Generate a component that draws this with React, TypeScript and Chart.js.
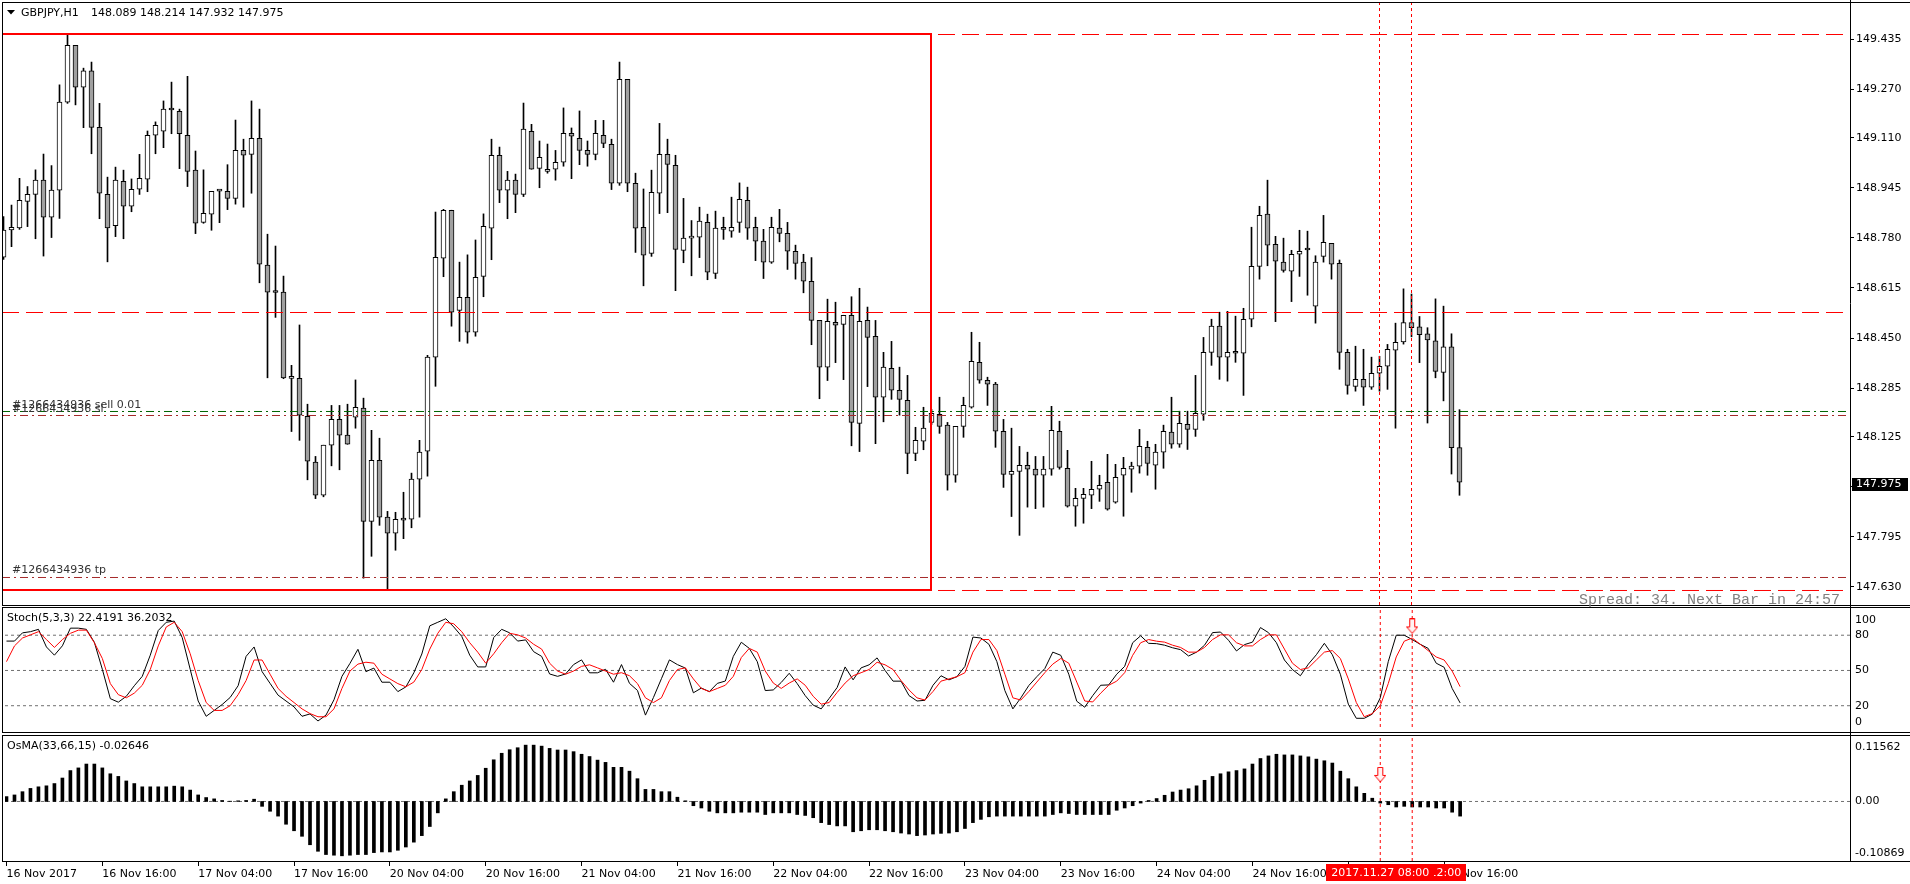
import React, { useEffect, useRef } from 'react';
import { Chart, registerables } from 'chart.js';
Chart.register(...registerables);

// ---------------- data (GBPJPY H1) ----------------
const OPEN = [
  148.716,148.806,148.813,148.900,148.923,148.970,148.848,148.937,149.227,149.414,
  149.276,149.330,149.144,148.923,148.820,148.966,148.884,148.940,148.973,149.118,
  149.131,149.202,149.197,149.118,149.003,148.831,148.858,148.935,148.933,148.910,
  149.068,149.055,149.108,148.690,148.601,148.601,148.317,148.317,148.192,148.041,
  147.932,148.097,148.182,148.130,148.189,148.219,147.846,148.047,147.860,147.807,
  147.851,147.853,147.985,148.077,148.387,148.713,148.871,148.541,148.584,148.469,
  148.653,148.812,149.052,148.937,148.970,148.923,149.131,149.009,148.999,149.006,
  149.029,149.124,149.108,149.068,149.055,149.118,149.088,148.960,149.302,148.960,
  148.815,148.729,148.927,149.055,149.019,148.739,148.779,148.782,148.831,148.663,
  148.809,148.802,148.831,148.904,148.815,148.769,148.700,148.812,148.795,148.736,
  148.700,148.637,148.508,148.354,148.502,148.495,148.525,148.169,148.508,148.456,
  148.255,148.350,148.278,148.245,148.070,148.110,148.172,148.199,148.163,147.998,
  148.159,148.222,148.370,148.311,148.298,148.143,148.001,148.011,148.031,148.018,
  147.998,148.018,148.143,148.021,147.896,147.922,147.932,147.952,147.975,147.909,
  147.998,148.018,148.028,148.090,148.031,148.074,148.140,148.100,148.166,148.149,
  148.199,148.403,148.489,148.387,148.406,148.400,148.512,148.686,148.858,148.759,
  148.700,148.670,148.726,148.741,148.555,148.719,148.762,148.696,148.403,148.291,
  148.314,148.288,148.334,148.357,148.410,148.437,148.501,148.487,148.464,148.441,
  148.337,148.421,148.089,
];
const HIGH = [
  148.850,148.888,148.976,148.949,149.004,149.056,149.018,149.284,149.452,149.414,
  149.339,149.359,149.223,148.980,149.013,149.003,148.974,149.055,149.132,149.162,
  149.231,149.293,149.204,149.312,149.066,149.004,148.933,148.935,149.021,149.168,
  149.105,149.231,149.204,148.792,148.753,148.654,148.360,148.493,148.232,148.060,
  148.097,148.228,148.228,148.232,148.312,148.252,148.146,148.120,147.879,147.876,
  147.942,148.005,148.113,148.393,148.865,148.874,148.871,148.700,148.724,148.773,
  148.859,149.105,149.079,148.999,148.990,149.224,149.154,149.099,149.089,149.068,
  149.208,149.142,149.198,149.099,149.167,149.167,149.105,149.359,149.302,148.993,
  148.941,149.003,149.157,149.105,149.052,148.910,148.837,148.881,148.858,148.868,
  148.848,148.914,148.961,148.947,148.848,148.808,148.848,148.874,148.831,148.756,
  148.726,148.715,148.508,148.578,148.568,148.525,148.586,148.614,148.552,148.508,
  148.403,148.439,148.354,148.327,148.156,148.222,148.215,148.255,148.172,148.159,
  148.255,148.469,148.436,148.321,148.304,148.182,148.153,148.093,148.074,148.060,
  148.060,148.225,148.176,148.080,147.955,147.955,148.044,147.998,148.067,148.034,
  148.057,148.041,148.149,148.110,148.100,148.163,148.255,148.209,148.209,148.327,
  148.452,148.512,148.535,148.538,148.522,148.548,148.815,148.884,148.970,148.785,
  148.779,148.739,148.805,148.802,148.721,148.854,148.762,148.707,148.413,148.423,
  148.413,148.387,148.390,148.429,148.499,148.612,148.595,148.521,148.484,148.579,
  148.555,148.464,148.214,
];
const LOW = [
  148.709,148.751,148.808,148.817,148.777,148.720,148.781,148.844,149.223,149.218,
  149.143,149.057,148.843,148.701,148.784,148.777,148.866,148.923,148.932,149.057,
  149.077,149.123,149.008,148.949,148.794,148.828,148.805,148.830,148.873,148.891,
  148.881,148.927,148.632,148.319,148.518,148.316,148.142,148.113,147.983,147.921,
  147.927,148.029,148.016,148.100,148.153,147.659,147.731,147.833,147.622,147.751,
  147.789,147.825,147.860,147.995,148.291,148.652,148.489,148.439,148.433,148.456,
  148.586,148.708,148.896,148.843,148.863,148.916,149.006,148.945,148.993,148.970,
  149.016,148.975,149.021,149.016,149.037,149.077,148.939,148.953,148.932,148.732,
  148.622,148.719,148.860,148.863,148.606,148.698,148.655,148.715,148.642,148.646,
  148.775,148.782,148.798,148.775,148.705,148.646,148.696,148.767,148.676,148.644,
  148.599,148.428,148.250,148.310,148.369,148.313,148.095,148.076,148.290,148.102,
  148.174,148.248,148.196,148.003,148.046,148.082,148.165,148.136,147.949,147.975,
  148.123,148.219,148.301,148.228,148.090,147.958,147.862,147.800,147.893,147.888,
  147.893,147.998,148.018,147.893,147.830,147.840,147.888,147.912,147.883,147.906,
  147.863,147.942,148.005,147.998,147.952,148.021,148.087,148.090,148.083,148.126,
  148.179,148.360,148.314,148.308,148.370,148.261,148.487,148.644,148.688,148.504,
  148.667,148.570,148.653,148.591,148.499,148.700,148.644,148.347,148.265,148.275,
  148.228,148.281,148.275,148.281,148.153,148.430,148.454,148.369,148.170,148.319,
  148.243,148.002,147.932,
];
const CLOSE = [
  148.806,148.815,148.904,148.923,148.970,148.848,148.937,149.227,149.414,149.276,
  149.330,149.144,148.927,148.813,148.970,148.884,148.940,148.976,149.118,149.151,
  149.204,149.201,149.123,148.999,148.828,148.861,148.933,148.934,148.910,149.068,
  149.052,149.108,148.693,148.601,148.600,148.319,148.324,148.196,148.044,147.932,
  148.097,148.182,148.130,148.100,148.222,147.846,148.047,147.860,147.807,147.853,
  147.850,147.985,148.074,148.387,148.716,148.871,148.535,148.584,148.469,148.650,
  148.818,149.052,148.937,148.970,148.923,149.138,149.006,149.045,149.006,149.029,
  149.124,149.115,149.068,149.055,149.124,149.091,148.960,149.302,148.960,148.812,
  148.723,148.930,149.055,149.022,148.742,148.779,148.785,148.835,148.667,148.812,
  148.808,148.815,148.907,148.812,148.769,148.700,148.815,148.795,148.736,148.696,
  148.637,148.508,148.354,148.505,148.492,148.525,148.172,148.505,148.452,148.255,
  148.354,148.278,148.248,148.070,148.113,148.153,148.202,148.159,147.998,148.159,
  148.228,148.373,148.311,148.298,148.143,148.001,148.011,148.031,148.018,147.998,
  148.018,148.146,148.024,147.896,147.922,147.935,147.952,147.965,147.886,147.991,
  148.021,148.028,148.093,148.037,148.074,148.143,148.100,148.169,148.149,148.202,
  148.403,148.489,148.387,148.403,148.400,148.512,148.686,148.854,148.756,148.703,
  148.673,148.726,148.736,148.740,148.700,148.765,148.693,148.403,148.294,148.314,
  148.288,148.334,148.357,148.413,148.436,148.501,148.484,148.461,148.444,148.340,
  148.421,148.089,147.975,
];
const STOCH_K = [
  75,75,82,83,85,70,63,71,86,86,
  85,74,51,26,23,28,37,45,63,84,
  91,92,78,51,24,11,16,21,27,37,
  62,70,49,39,29,24,19,11,13,7,
  12,25,45,56,68,49,52,40,40,32,
  36,48,64,88,91,94,87,79,63,53,
  53,78,85,82,75,76,66,62,47,45,
  47,55,59,48,48,51,40,55,39,33,
  12,27,43,59,55,52,31,35,32,39,
  41,62,74,68.8,57.5,32.9,33.4,39.8,47.6,38.8,
  28.6,20.5,17.3,26.2,35.5,53,42,52.2,54.8,60.7,
  50,40.9,40.9,28.6,24,24.6,37.4,45.5,42,44.7,
  53.5,78.4,77.6,72.3,57.5,32.9,17.3,26.7,37.2,44.7,
  51.6,65.6,62.9,46.8,23.8,18.7,28.6,37.4,37.7,46.8,
  53.5,73.6,79.5,73.1,72.8,71.5,69.3,67.7,62.3,65.6,
  71.5,82.2,82.7,75.7,66.6,72,74.1,86.5,82.2,73.6,
  58.9,50.8,45.5,55.4,63.4,73.1,63.4,46.8,21.3,9.3,
  9.3,12.8,26.7,57.5,80,80,76.3,72.3,68.8,56.2,
  52.7,34.7,22.4,
];
const STOCH_D = [
  57.5,70.9,77.6,80.3,83,76.3,69.6,76.3,81.6,84.3,
  84.3,73.6,60.2,38.8,29.4,26.7,30.7,37.4,50.8,70.9,
  87,91,83,64.2,41.4,22.7,16,16,20,29.4,
  41.4,58.9,58.9,46.8,34.7,28,22.7,17.3,13.3,10.6,
  10.6,17.3,34.7,49.5,55.4,57,56.2,46.8,42.8,38.8,
  36.1,40.1,50.8,68.2,81.6,91,89.7,83,73.6,65.6,
  56.2,64.2,73.6,81.6,80.3,77.6,72.3,68.2,56.2,49.5,
  46.8,49.5,53.5,54.8,52.2,49.5,46.8,48.1,45.5,38.8,
  26.7,22.7,26.7,41.4,50.8,52.2,42.8,34.7,32,34.7,
  37.4,45,61,68.8,65.6,49.5,39.3,34.7,39.3,42.8,
  37.4,28,21.3,22.7,31.3,39.3,45.5,48.1,50.8,57,
  54.8,50.8,41.4,33.4,26.7,24.8,32.1,40.9,42.8,44.7,
  48.1,65.6,76.3,76.3,66.9,46.8,26.7,24.8,32.1,40.1,
  48.1,55.4,60.2,56.2,40.1,24,23.2,30.7,37.4,40.9,
  48.1,62.9,73.6,76.3,74.9,74.1,71.5,69.6,65.6,65.6,
  69.6,76.3,80.3,80.3,73.6,70.9,70.9,76.3,80.3,80.3,
  68.2,56.2,50.8,52.2,58.9,65.6,66.9,60.2,42.8,22.7,
  10.6,13.3,20,38.8,61.5,74.9,77.6,72.3,66.9,61.5,
  58.9,49.5,36.2,
];
const OSMA = [
  0.0088,0.0118,0.0177,0.0236,0.0265,0.0283,0.0324,0.0424,0.0559,0.0607,
  0.0677,0.0677,0.0607,0.0501,0.0453,0.0371,0.0324,0.0265,0.0265,0.0265,
  0.0265,0.0277,0.0265,0.0206,0.0118,0.0071,0.0047,0.0018,0.0005,0.0012,
  0.0018,0.0041,-0.0088,-0.0177,-0.0265,-0.0412,-0.0530,-0.0630,-0.0783,-0.0901,
  -0.0960,-0.0972,-0.0983,-0.0972,-0.0960,-0.0960,-0.0925,-0.0913,-0.0913,-0.0883,
  -0.0824,-0.0736,-0.0618,-0.0453,-0.0206,0.0047,0.0177,0.0294,0.0371,0.0471,
  0.0601,0.0754,0.0872,0.0936,0.0972,0.1019,0.1019,0.1001,0.0960,0.0931,
  0.0931,0.0901,0.0854,0.0813,0.0748,0.0707,0.0618,0.0618,0.0548,0.0412,
  0.0218,0.0218,0.0177,0.0177,0.0077,0.0012,-0.0077,-0.0118,-0.0177,-0.0206,
  -0.0206,-0.0206,-0.0194,-0.0194,-0.0194,-0.0236,-0.0206,-0.0206,-0.0206,-0.0236,
  -0.0253,-0.0294,-0.0383,-0.0418,-0.0442,-0.0442,-0.0548,-0.0530,-0.0512,-0.0512,
  -0.0530,-0.0548,-0.0571,-0.0589,-0.0618,-0.0607,-0.0589,-0.0577,-0.0571,-0.0548,
  -0.0489,-0.0383,-0.0324,-0.0277,-0.0265,-0.0265,-0.0265,-0.0265,-0.0265,-0.0265,
  -0.0265,-0.0236,-0.0206,-0.0218,-0.0236,-0.0236,-0.0236,-0.0236,-0.0236,-0.0159,
  -0.0118,-0.0077,-0.0029,0.0018,0.0053,0.0112,0.0171,0.0206,0.0230,0.0283,
  0.0383,0.0453,0.0501,0.0536,0.0559,0.0589,0.0677,0.0777,0.0824,0.0854,
  0.0842,0.0842,0.0824,0.0807,0.0766,0.0736,0.0695,0.0548,0.0412,0.0265,
  0.0147,0.0059,-0.0029,-0.0059,-0.0100,-0.0088,-0.0100,-0.0100,-0.0100,-0.0118,
  -0.0118,-0.0194,-0.0265,
];
const PRICE_TICKS = [149.435, 149.270, 149.110, 148.945, 148.780, 148.615, 148.450, 148.285, 148.125, 147.960, 147.795, 147.630];
const TIME_TICK_BARS = [0, 12, 24, 36, 48, 60, 72, 84, 96, 108, 120, 132, 144, 156, 168, 180];
const TIME_TICK_LABELS = [
  '16 Nov 2017', '16 Nov 16:00', '17 Nov 04:00', '17 Nov 16:00', '20 Nov 04:00', '20 Nov 16:00',
  '21 Nov 04:00', '21 Nov 16:00', '22 Nov 04:00', '22 Nov 16:00', '23 Nov 04:00', '23 Nov 16:00',
  '24 Nov 04:00', '24 Nov 16:00', '27 Nov 04:00', '27 Nov 16:00',
];
const STOCH_LEVELS = [80, 50, 20];
const STOCH_AXIS = [100, 80, 50, 20, 0];
const OSMA_AXIS = [0.11562, 0, -0.10869];
const OSMA_AXIS_TEXT = ['0.11562', '0.00', '-0.10869'];
const RED_LEVELS = [149.4498, 148.5341, 147.6184];
const BOX_TOP = 149.4515;
const BOX_BOTTOM = 147.6200;
const BOX_RIGHT_BAR = 115.9375;
const ORDER_OPEN = 148.2080;
const ORDER_SL = 148.1948;
const ORDER_TP = 147.6612;
const VLINE_BARS = [172, 176];
const VLINE_TEXT = ['2017.11.27 08:00', '2017.11.27 12:00'];
const STOCH_ARROW = { bar: 176, value: 87.5 };
const OSMA_ARROW = { bar: 172, value: 0.048 };

// ---------------- layout constants ----------------
const W = 1910;
const AXIS_X = 1850;
const X_MIN = -0.1875;
const X_MAX = 230.8125;
const PRICE_MIN = 147.5673;
const PRICE_MAX = 149.5569;
const STOCH_MIN = -0.67;
const STOCH_MAX = 101.45;
const OSMA_MIN = -0.1095;
const OSMA_MAX = 0.1148;
const FAMILY = 'DejaVu Sans';
const FONT11 = '11px "DejaVu Sans"';

function xAxis(show: boolean) {
  return {
    type: 'linear', min: X_MIN, max: X_MAX, offset: false, display: show,
    afterBuildTicks: (s: any) => { s.ticks = TIME_TICK_BARS.map((v) => ({ value: v })); },
    afterFit: (s: any) => { if (show) s.height = 22; s.paddingLeft = 0; s.paddingRight = 0; },
    grid: { display: show, drawOnChartArea: false, drawTicks: true, tickLength: 4, color: '#000', offset: false },
    border: { display: false },
    ticks: {
      display: show, autoSkip: false, maxRotation: 0, minRotation: 0, align: 'start', padding: 2,
      color: '#000', font: { family: FAMILY, size: 11 },
      callback: (_v: any, i: number) => TIME_TICK_LABELS[i] ?? '',
    },
  };
}

function hline(v: number, color: string, dash: number[], width = 1) {
  return {
    type: 'line', data: [{ x: X_MIN, y: v }, { x: X_MAX, y: v }], borderColor: color,
    borderWidth: width, borderDash: dash, pointRadius: 0, fill: false, order: 0,
  };
}
function vline(bar: number, lo: number, hi: number) {
  return {
    type: 'line', data: [{ x: bar, y: hi }, { x: bar, y: lo }], borderColor: '#ff0000',
    borderWidth: 1, borderDash: [3, 3], pointRadius: 0, fill: false, order: 0,
  };
}

function makeArrow() {
  const c = document.createElement('canvas');
  c.width = 12; c.height = 16;
  const g = c.getContext('2d')!;
  g.beginPath();
  g.moveTo(3.5, 0.5); g.lineTo(8.5, 0.5); g.lineTo(8.5, 8.5); g.lineTo(11.5, 8.5);
  g.lineTo(6, 15); g.lineTo(0.5, 8.5); g.lineTo(3.5, 8.5); g.closePath();
  g.fillStyle = '#fff2f2'; g.fill();
  g.strokeStyle = '#ff0000'; g.lineWidth = 1; g.stroke();
  return c;
}

function frame(ctx: CanvasRenderingContext2D, top: number, bottom: number, canvasH: number) {
  ctx.strokeStyle = '#000'; ctx.lineWidth = 1;
  ctx.beginPath();
  ctx.moveTo(2, top); ctx.lineTo(W, top);
  ctx.moveTo(2, bottom); ctx.lineTo(W, bottom);
  ctx.moveTo(2.5, top); ctx.lineTo(2.5, bottom);
  ctx.moveTo(AXIS_X + 0.5, 0); ctx.lineTo(AXIS_X + 0.5, canvasH);
  ctx.stroke();
}

const baseOptions = {
  responsive: false, animation: false, devicePixelRatio: 1, events: [],
  plugins: { legend: { display: false }, tooltip: { enabled: false } },
};

export default function App() {
  const mainRef = useRef<HTMLCanvasElement>(null);
  const stochRef = useRef<HTMLCanvasElement>(null);
  const osmaRef = useRef<HTMLCanvasElement>(null);

  useEffect(() => {
    document.body.style.margin = '0';
    const arrow = makeArrow();
    const charts: any[] = [];
    const n = CLOSE.length - 1;

    // ---------------- main price pane ----------------
    const mainDecor = {
      id: 'mainDecor',
      afterDraw(chart: any) {
        const ctx = chart.ctx as CanvasRenderingContext2D;
        ctx.save();
        frame(ctx, 2.5, 605.5, 607);
        ctx.fillStyle = '#000';
        ctx.beginPath(); ctx.moveTo(7, 10); ctx.lineTo(15, 10); ctx.lineTo(11, 14.5); ctx.closePath(); ctx.fill();
        ctx.font = FONT11; ctx.textBaseline = 'middle'; ctx.textAlign = 'left';
        ctx.fillText('GBPJPY,H1', 21, 13);
        ctx.fillText(`${OPEN[n].toFixed(3)} ${HIGH[n].toFixed(3)} ${LOW[n].toFixed(3)} ${CLOSE[n].toFixed(3)}`, 91, 13);
        const y = chart.scales.y;
        ctx.fillStyle = '#333333';
        ctx.fillText('#1266434936 sell 0.01', 12, y.getPixelForValue(ORDER_OPEN) - 6);
        ctx.fillText('#1266434936 sl', 12, y.getPixelForValue(ORDER_SL) - 6.5);
        ctx.fillText('#1266434936 tp', 12, y.getPixelForValue(ORDER_TP) - 7);
        ctx.fillStyle = '#808080';
        ctx.font = '15px "Liberation Mono"';
        ctx.textAlign = 'right'; ctx.textBaseline = 'alphabetic';
        ctx.fillText('Spread: 34. Next Bar in 24:57', 1840, 604);
        const py = Math.round(y.getPixelForValue(CLOSE[n]));
        ctx.fillStyle = '#000';
        ctx.fillRect(1852, py - 4, 56, 13);
        ctx.fillStyle = '#fff'; ctx.font = FONT11; ctx.textAlign = 'left'; ctx.textBaseline = 'middle';
        ctx.fillText(CLOSE[n].toFixed(3), 1856, py + 2.5);
        ctx.restore();
      },
    };

    const mainChart = new Chart(mainRef.current!, {
      type: 'bar',
      data: {
        datasets: [
          ...RED_LEVELS.map((v) => hline(v, '#ff0000', [17, 7])),
          {
            type: 'line',
            data: [
              { x: X_MIN, y: BOX_TOP }, { x: BOX_RIGHT_BAR, y: BOX_TOP },
              { x: BOX_RIGHT_BAR, y: BOX_BOTTOM }, { x: X_MIN, y: BOX_BOTTOM },
            ],
            borderColor: '#ff0000', borderWidth: 2, pointRadius: 0, fill: false, order: 0,
          },
          hline(ORDER_OPEN, '#006400', [8, 4, 2, 4]),
          hline(ORDER_SL, '#a52a2a', [8, 4, 2, 4]),
          hline(ORDER_TP, '#a52a2a', [8, 4, 2, 4]),
          ...VLINE_BARS.map((b) => vline(b, PRICE_MIN, PRICE_MAX)),
          {
            type: 'bar',
            data: OPEN.map((o, i) => ({ x: i, y: [o, CLOSE[i]] })),
            backgroundColor: OPEN.map((o, i) => (CLOSE[i] >= o ? '#ffffff' : '#a0a0a0')),
            borderColor: '#000', borderWidth: 1, borderSkipped: false,
            barThickness: 5, minBarLength: 2, grouped: false, order: 2,
          },
          {
            type: 'bar',
            data: HIGH.map((h, i) => ({ x: i, y: [LOW[i], h] })),
            backgroundColor: '#000', borderWidth: 0,
            barThickness: 1, grouped: false, order: 3,
          },
        ] as any,
      },
      options: {
        ...baseOptions,
        layout: { padding: { left: 2, top: 2, right: 0, bottom: 1 } },
        scales: {
          x: xAxis(false) as any,
          y: {
            type: 'linear', position: 'right', min: PRICE_MIN, max: PRICE_MAX,
            afterBuildTicks: (s: any) => { s.ticks = PRICE_TICKS.map((v) => ({ value: v })); },
            afterFit: (s: any) => { s.width = W - AXIS_X; s.paddingTop = 0; s.paddingBottom = 0; },
            grid: { display: true, drawOnChartArea: false, drawTicks: true, tickLength: 4, color: '#000' },
            border: { display: false },
            ticks: {
              padding: 2, color: '#000', font: { family: FAMILY, size: 11 },
              callback: (v: any) => Number(v).toFixed(3),
            },
          },
        },
      } as any,
      plugins: [mainDecor],
    });
    charts.push(mainChart);

    // ---------------- stochastic pane ----------------
    const stochDecor = {
      id: 'stochDecor',
      afterDraw(chart: any) {
        const ctx = chart.ctx as CanvasRenderingContext2D;
        const y = chart.scales.y;
        ctx.save();
        frame(ctx, 2.5, 127.5, 130);
        ctx.fillStyle = '#000'; ctx.font = FONT11; ctx.textBaseline = 'middle'; ctx.textAlign = 'left';
        ctx.fillText('Stoch(5,3,3) 22.4191 36.2032', 7, 13.5);
        STOCH_AXIS.forEach((v) => {
          let p = y.getPixelForValue(v);
          if (v === 100) p += 8;
          if (v === 0) p -= 7.5;
          ctx.fillText(String(v), 1855, p);
        });
        ctx.restore();
      },
    };
    const stochChart = new Chart(stochRef.current!, {
      type: 'line',
      data: {
        datasets: [
          {
            type: 'line', data: [{ x: STOCH_ARROW.bar, y: STOCH_ARROW.value }], showLine: false,
            pointStyle: arrow, pointRadius: 5, borderWidth: 0, order: -1,
          },
          {
            data: STOCH_D.map((v, i) => ({ x: i, y: v })), borderColor: '#ff0000', borderWidth: 1,
            pointRadius: 0, tension: 0, fill: false, order: 0,
          },
          {
            data: STOCH_K.map((v, i) => ({ x: i, y: v })), borderColor: '#000000', borderWidth: 1,
            pointRadius: 0, tension: 0, fill: false, order: 1,
          },
          ...STOCH_LEVELS.map((v) => ({ ...hline(v, '#707070', [3, 3]), order: 3 })),
          ...VLINE_BARS.map((b) => ({ ...vline(b, STOCH_MIN, STOCH_MAX), order: 2 })),
        ] as any,
      },
      options: {
        ...baseOptions,
        layout: { padding: { left: 2, top: 2, right: W - AXIS_X, bottom: 1 } },
        scales: {
          x: xAxis(false) as any,
          y: { type: 'linear', display: false, min: STOCH_MIN, max: STOCH_MAX },
        },
      } as any,
      plugins: [stochDecor],
    });
    charts.push(stochChart);

    // ---------------- OsMA pane ----------------
    const osmaDecor = {
      id: 'osmaDecor',
      afterDraw(chart: any) {
        const ctx = chart.ctx as CanvasRenderingContext2D;
        const y = chart.scales.y;
        const x = chart.scales.x;
        ctx.save();
        frame(ctx, 2.5, 128.5, 129);
        ctx.fillStyle = '#000'; ctx.font = FONT11; ctx.textBaseline = 'middle'; ctx.textAlign = 'left';
        ctx.fillText('OsMA(33,66,15) -0.02646', 7, 13.5);
        OSMA_AXIS.forEach((v, i) => {
          let p = y.getPixelForValue(v);
          if (i === 0) p = chart.chartArea.top + 9;
          if (i === 2) p = chart.chartArea.bottom - 9;
          ctx.fillText(OSMA_AXIS_TEXT[i], 1855, p);
        });
        ctx.font = FONT11; ctx.textAlign = 'center';
        for (let k = VLINE_BARS.length - 1; k >= 0; k--) {
          const px = x.getPixelForValue(VLINE_BARS[k]);
          const tw = ctx.measureText(VLINE_TEXT[k]).width;
          ctx.fillStyle = '#ff0000';
          ctx.fillRect(Math.round(px - tw / 2 - 5), 131, Math.round(tw + 10), 17);
          ctx.fillStyle = '#ffffff';
          ctx.fillText(VLINE_TEXT[k], px, 140);
        }
        ctx.restore();
      },
    };
    const osmaChart = new Chart(osmaRef.current!, {
      type: 'bar',
      data: {
        datasets: [
          {
            type: 'line', data: [{ x: OSMA_ARROW.bar, y: OSMA_ARROW.value }], showLine: false,
            pointStyle: arrow, pointRadius: 5, borderWidth: 0, order: -1,
          },
          ...VLINE_BARS.map((b) => ({ ...vline(b, OSMA_MIN, OSMA_MAX), order: 0 })),
          {
            type: 'bar', data: OSMA.map((v, i) => ({ x: i, y: v })), backgroundColor: '#000',
            borderWidth: 0, barThickness: 3, grouped: false, order: 1,
          },
          { ...hline(0, '#707070', [3, 3]), order: 2 },
        ] as any,
      },
      options: {
        ...baseOptions,
        layout: { padding: { left: 2, top: 2, right: W - AXIS_X, bottom: 0 } },
        scales: {
          x: xAxis(true) as any,
          y: { type: 'linear', display: false, min: OSMA_MIN, max: OSMA_MAX },
        },
      } as any,
      plugins: [osmaDecor],
    });
    charts.push(osmaChart);

    return () => { charts.forEach((c) => c.destroy()); };
  }, []);

  const abs = (top: number, h: number) => ({ position: 'absolute' as const, left: 0, top, width: W, height: h });
  return (
    <div style={{ position: 'relative', width: W, height: 884, background: '#ffffff', overflow: 'hidden' }}>
      <canvas ref={mainRef} width={W} height={607} style={abs(0, 607)} />
      <canvas ref={stochRef} width={W} height={130} style={abs(605, 130)} />
      <canvas ref={osmaRef} width={W} height={151} style={abs(733, 151)} />
    </div>
  );
}
